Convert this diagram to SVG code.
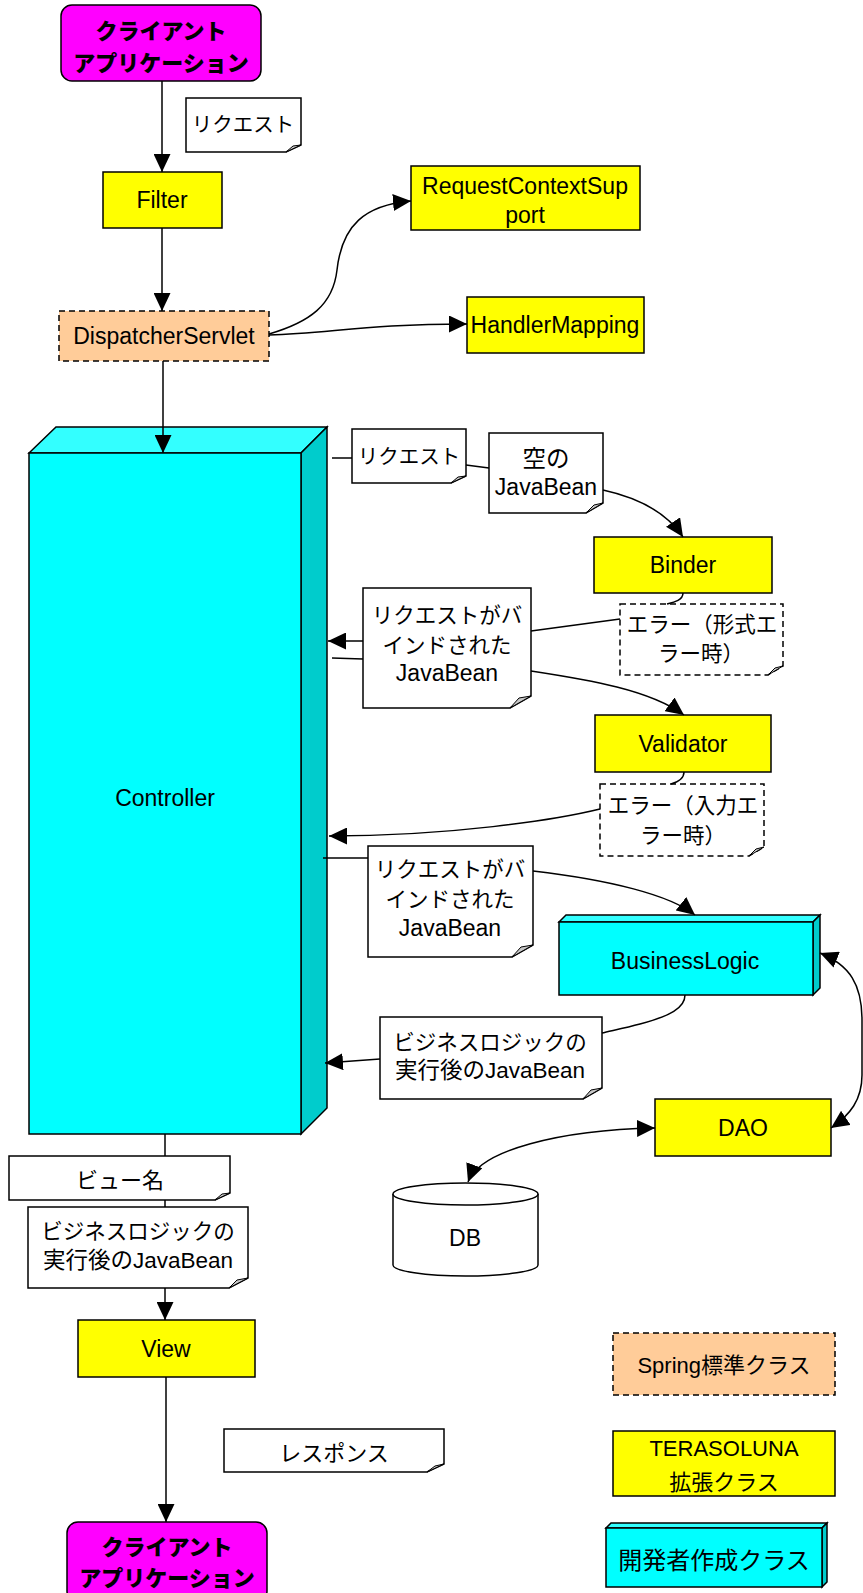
<svg xmlns="http://www.w3.org/2000/svg" width="863" height="1593" viewBox="0 0 863 1593">
<style>
.box{stroke:#000;stroke-width:1.5}
.y{fill:#FFFF00}
.s{fill:#FFCC99;stroke-dasharray:6,4}
.m{fill:#FF00FF}
.note{fill:#fff;stroke:#000;stroke-width:1.5}
.dn{fill:#fff;stroke:#000;stroke-width:1.5;stroke-dasharray:6,4}
.fold{fill:#C8C8C8;stroke:#000;stroke-width:1}
.cf{fill:#00FFFF}.ct{fill:#33FFFF}.cs{fill:#00CCCC}
.c{fill:none;stroke:#000;stroke-width:1.5}
text{font-family:"Liberation Sans","Noto Sans CJK JP",sans-serif;font-size:23px;text-anchor:middle;dominant-baseline:central;fill:#000}
.j{font-family:"Noto Sans CJK JP",sans-serif;font-size:21.5px}
.bj{font-family:"Noto Sans CJK JP",sans-serif;font-size:22px;font-weight:900}
</style>
<defs>
<marker id="a" viewBox="0 0 18 17" markerWidth="18" markerHeight="17" markerUnits="userSpaceOnUse" refX="18" refY="8.5" orient="auto-start-reverse"><path d="M0,0 L18,8.5 L0,17 Z" fill="#000"/></marker>
</defs>

<g id="client-top">
<rect class="box m" x="61" y="5" width="200" height="76" rx="11"/>
<text class="bj" x="161" y="29">クライアント</text>
<text class="bj" x="161" y="61">アプリケーション</text>
</g>

<g id="note-request1">
<path class="note" d="M186,98 H301 V145 L286,152 H186 Z"/>
<path class="fold" d="M286,152 L293,146 L301,145 Z"/>
<text class="j" x="243" y="123" style="font-size:20.5px">リクエスト</text>
</g>

<g id="filter">
<rect class="box y" x="103" y="172" width="119" height="56"/>
<text x="162" y="200">Filter</text>
</g>

<g id="dispatcher">
<rect class="box s" x="59" y="311" width="210" height="50"/>
<text x="164" y="336">DispatcherServlet</text>
</g>

<g id="rcs">
<rect class="box y" x="411" y="166" width="229" height="64"/>
<text x="525" y="186">RequestContextSup</text>
<text x="525" y="215">port</text>
</g>

<g id="handlermapping">
<rect class="box y" x="467" y="297" width="177" height="56"/>
<text x="555" y="325">HandlerMapping</text>
</g>

<g id="controller">
<polygon class="box ct" points="29,453 56,427 327,427 301,453"/>
<polygon class="box cs" points="301,453 327,427 327,1108 301,1134"/>
<rect class="box cf" x="29" y="453" width="272" height="681"/>
<text x="165" y="798">Controller</text>
</g>

<g id="note-request2">
<path class="note" d="M352,429 H466 V476 L451,483 H352 Z"/>
<path class="fold" d="M451,483 L458,477 L466,476 Z"/>
<text class="j" x="409" y="455" style="font-size:20.5px">リクエスト</text>
</g>

<g id="note-empty-bean">
<path class="note" d="M489,433 H603 V503 L586,513 H489 Z"/>
<path class="fold" d="M586,513 L594,505 L603,503 Z"/>
<text class="j" x="546" y="457" style="font-size:23.5px">空の</text>
<text x="546" y="487">JavaBean</text>
</g>

<g id="binder">
<rect class="box y" x="594" y="537" width="178" height="56"/>
<text x="683" y="565">Binder</text>
</g>

<g id="note-error1">
<path class="dn" d="M620,604 H783 V666 L768,675 H620 Z"/>
<path class="fold" d="M768,675 L775,668 L783,666 Z"/>
<text class="j" x="702" y="622">エラー（形式エ</text>
<text class="j" x="701" y="651">ラー時）</text>
</g>

<g id="note-bound1">
<path class="note" d="M363,588 H531 V696 L510,708 H363 Z"/>
<path class="fold" d="M510,708 L519,698 L531,696 Z"/>
<text class="j" x="447" y="613">リクエストがバ</text>
<text class="j" x="447" y="643">インドされた</text>
<text x="447" y="673">JavaBean</text>
</g>

<g id="validator">
<rect class="box y" x="595" y="715" width="176" height="57"/>
<text x="683" y="744">Validator</text>
</g>

<g id="note-error2">
<path class="dn" d="M600,784 H764 V847 L749,856 H600 Z"/>
<path class="fold" d="M749,856 L756,849 L764,847 Z"/>
<text class="j" x="683" y="803">エラー（入力エ</text>
<text class="j" x="683" y="833">ラー時）</text>
</g>

<g id="note-bound2">
<path class="note" d="M368,846 H533 V945 L512,957 H368 Z"/>
<path class="fold" d="M512,957 L521,947 L533,945 Z"/>
<text class="j" x="450" y="867">リクエストがバ</text>
<text class="j" x="450" y="897">インドされた</text>
<text x="450" y="928">JavaBean</text>
</g>

<g id="businesslogic">
<polygon class="box ct" points="559,922 566,915 820,915 813,922"/>
<polygon class="box cs" points="813,922 820,915 820,988 813,995"/>
<rect class="box cf" x="559" y="922" width="254" height="73"/>
<text x="685" y="961">BusinessLogic</text>
</g>

<g id="note-result1">
<path class="note" d="M380,1017 H602 V1088 L583,1099 H380 Z"/>
<path class="fold" d="M583,1099 L591,1090 L602,1088 Z"/>
<text class="j" x="490" y="1040">ビジネスロジックの</text>
<text x="490" y="1070" style="font-size:22.5px">実行後のJavaBean</text>
</g>

<g id="dao">
<rect class="box y" x="655" y="1099" width="176" height="57"/>
<text x="743" y="1128">DAO</text>
</g>

<g id="db">
<path class="note" d="M393,1194 V1265 A72.5,11 0 0 0 538,1265 V1194"/>
<ellipse class="note" cx="465.5" cy="1194" rx="72.5" ry="11"/>
<text x="465" y="1238">DB</text>
</g>

<g id="note-viewname">
<path class="note" d="M9,1156 H230 V1193 L215,1200 H9 Z"/>
<path class="fold" d="M215,1200 L222,1194 L230,1193 Z"/>
<text class="j" x="120" y="1178" style="font-size:22px">ビュー名</text>
</g>

<g id="note-result2">
<path class="note" d="M28,1207 H248 V1278 L229,1288 H28 Z"/>
<path class="fold" d="M229,1288 L237,1280 L248,1278 Z"/>
<text class="j" x="138" y="1229">ビジネスロジックの</text>
<text x="138" y="1260" style="font-size:22.5px">実行後のJavaBean</text>
</g>

<g id="view">
<rect class="box y" x="78" y="1320" width="177" height="57"/>
<text x="166" y="1349">View</text>
</g>

<g id="note-response">
<path class="note" d="M224,1429 H444 V1464 L427,1472 H224 Z"/>
<path class="fold" d="M427,1472 L435,1466 L444,1464 Z"/>
<text class="j" x="334" y="1451" style="font-size:22px">レスポンス</text>
</g>

<g id="client-bottom">
<rect class="box m" x="67" y="1522" width="200" height="80" rx="11"/>
<text class="bj" x="167" y="1545">クライアント</text>
<text class="bj" x="167" y="1576">アプリケーション</text>
</g>

<g id="legend-spring">
<rect class="box s" x="613" y="1333" width="222" height="62"/>
<text x="724" y="1365" style="font-size:22px">Spring標準クラス</text>
</g>

<g id="legend-terasoluna">
<rect class="box y" x="613" y="1431" width="222" height="65"/>
<text x="724" y="1448" style="font-size:22px">TERASOLUNA</text>
<text class="j" x="724" y="1480" style="font-size:22px">拡張クラス</text>
</g>

<g id="legend-developer">
<polygon class="box ct" points="606,1528 611,1523 827,1523 822,1528"/>
<polygon class="box cs" points="822,1528 827,1523 827,1582 822,1587"/>
<rect class="box cf" x="606" y="1528" width="216" height="59"/>
<text class="j" x="714" y="1558" style="font-size:24px">開発者作成クラス</text>
</g>

<g id="connectors">
<path class="c" d="M162,81 V172" marker-end="url(#a)"/>
<path class="c" d="M162,228 V311" marker-end="url(#a)"/>
<path class="c" d="M163,361 V453" marker-end="url(#a)"/>
<path class="c" d="M269,334 C310,322 333,305 337,270 C342,225 365,205 411,201" marker-end="url(#a)"/>
<path class="c" d="M269,335 C330,333 370,324 467,324" marker-end="url(#a)"/>
<path class="c" d="M332,458 H352"/>
<path class="c" d="M466,465 L489,468"/>
<path class="c" d="M603,490 C635,497 665,510 683,537" marker-end="url(#a)"/>
<path class="c" d="M683,593 C683,600 675,602 667,604"/>
<path class="c" d="M620,619 L531,631"/>
<path class="c" d="M363,641 L328,641" marker-end="url(#a)"/>
<path class="c" d="M332,658 L363,659"/>
<path class="c" d="M531,671 C590,680 650,690 684,715" marker-end="url(#a)"/>
<path class="c" d="M684,772 C684,778 678,782 671,784"/>
<path class="c" d="M600,809 C555,820 450,836 329,836" marker-end="url(#a)"/>
<path class="c" d="M323,858 H368"/>
<path class="c" d="M533,871 C610,880 670,895 695,915" marker-end="url(#a)"/>
<path class="c" d="M685,995 C685,1008 670,1016 640,1024 C625,1028 610,1031 602,1033"/>
<path class="c" d="M380,1059 L325,1063" marker-end="url(#a)"/>
<path class="c" d="M820,953 C850,965 862,985 862,1020 L862,1075 C862,1100 850,1115 831,1128" marker-start="url(#a)" marker-end="url(#a)"/>
<path class="c" d="M655,1128 C560,1130 480,1150 468,1182" marker-start="url(#a)" marker-end="url(#a)"/>
<path class="c" d="M165,1134 V1156"/>
<path class="c" d="M165,1200 V1207"/>
<path class="c" d="M165,1288 V1320" marker-end="url(#a)"/>
<path class="c" d="M166,1377 V1522" marker-end="url(#a)"/>
</g>
</svg>
